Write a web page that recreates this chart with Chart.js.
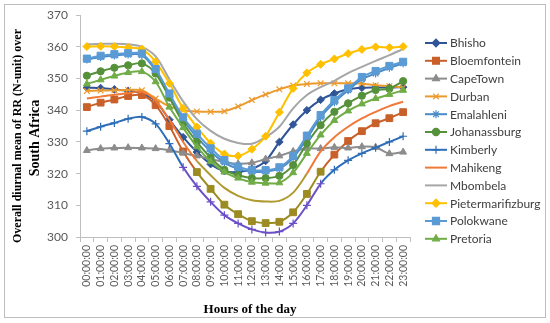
<!DOCTYPE html>
<html><head><meta charset="utf-8">
<script src="https://cdn.jsdelivr.net/npm/chart.js@4.4.0/dist/chart.umd.min.js"></script>
<style>html,body{margin:0;padding:0;background:#fff;}</style>
</head><body>
<canvas id="c" width="550" height="323"></canvas>
<script>
const hours = ["00:00:00","01:00:00","02:00:00","03:00:00","04:00:00","05:00:00","06:00:00","07:00:00","08:00:00","09:00:00","10:00:00","11:00:00","12:00:00","13:00:00","14:00:00","15:00:00","16:00:00","17:00:00","18:00:00","19:00:00","20:00:00","21:00:00","22:00:00","23:00:00"];
const yTicks = [300,310,320,330,340,350,360,370];

const bhisho       = [347.1,347.0,346.6,346.1,345.3,342.8,337.0,331.5,326.8,323.0,320.8,320.5,321.5,324.0,330.0,335.5,340.0,343.3,345.3,346.6,347.1,347.2,347.2,347.3];
const bloemfontein = [341.0,342.4,343.4,344.5,344.8,341.6,335.0,327.0,320.5,315.2,310.2,307.2,305.0,304.4,304.8,307.8,313.6,320.6,326.0,330.3,333.4,335.9,337.5,339.4];
const capeTown     = [327.3,327.9,328.1,328.2,328.1,327.9,327.4,326.5,325.6,324.6,323.7,323.1,323.4,324.6,325.6,327.0,328.0,327.9,328.3,328.1,328.5,328.3,326.3,326.8];
const durban       = [346.1,346.2,346.3,346.4,346.3,343.7,341.2,340.0,339.6,339.5,339.7,341.2,343.2,345.0,346.6,347.8,348.3,348.5,348.5,348.5,348.4,347.9,347.6,347.2];
const emalahleni   = [356.0,356.8,357.3,357.6,357.4,352.5,344.5,337.0,331.5,327.0,323.5,321.5,320.6,320.7,321.6,325.0,331.0,337.8,342.5,346.3,349.8,351.6,353.4,354.8];
const johanassburg = [350.9,352.3,353.4,354.2,354.8,351.6,344.0,336.0,330.0,325.0,321.2,319.5,318.6,318.6,319.3,322.7,329.5,335.3,339.5,342.2,344.6,346.4,346.8,349.2];
const kimberly     = [333.4,334.8,336.0,337.3,337.9,335.7,329.5,322.0,316.0,311.1,306.9,304.3,302.4,301.4,301.7,304.3,310.0,316.8,321.2,324.2,326.4,328.2,330.0,331.8];
const mahikeng     = [343.7,344.3,344.9,345.4,345.8,343.0,337.0,330.0,324.0,319.5,315.5,313.0,311.6,311.2,311.4,314.0,320.0,327.0,331.5,334.8,337.4,339.5,341.3,342.7];
const mbombela     = [360.8,361.0,361.0,360.8,360.0,357.0,349.8,342.8,337.2,333.5,331.0,329.7,329.4,331.5,334.8,340.6,344.8,347.3,349.3,351.7,353.7,355.6,357.4,359.3];
const pietermarifizburg = [360.1,360.2,360.1,359.8,359.3,355.3,348.5,340.6,334.7,329.6,326.2,325.6,327.7,331.8,339.4,346.9,351.8,354.5,356.2,357.9,359.2,360.0,359.8,360.1];
const polokwane    = [356.3,357.2,357.7,358.0,357.9,353.0,345.3,337.8,332.6,328.0,324.3,322.2,321.1,321.1,322.0,325.6,332.0,338.5,343.2,346.9,350.5,352.4,354.0,355.3];
const pretoria     = [348.3,349.6,350.8,351.9,352.2,349.0,341.0,334.5,328.5,323.8,320.5,318.6,317.3,317.0,317.1,320.3,326.4,332.2,336.8,339.8,342.0,343.7,345.0,346.3];

const series = [
  {label:"Bhisho", data:bhisho, color:"#2F5597", style:"rectRot", r:3.8},
  {label:"Bloemfontein", data:bloemfontein, color:"#C9602A", style:"rect", r:4.8, alt:{from:8,to:17,color:"#9C8B22"}},
  {label:"CapeTown", data:capeTown, color:"#8C8C8C", style:"triangle", r:4},
  {label:"Durban", data:durban, color:"#EC9A2E", style:"crossRot", r:4},
  {label:"Emalahleni", data:emalahleni, color:"#4A8CC8", style:"star", r:4},
  {label:"Johanassburg", data:johanassburg, color:"#55913A", style:"circle", r:3.6},
  {label:"Kimberly", data:kimberly, color:"#2E6DB8", style:"cross", r:4, alt:{from:7,to:17,color:"#6A4FC6"}},
  {label:"Mahikeng", data:mahikeng, color:"#F07838", style:false, r:0, alt:{from:8,to:16,color:"#B09A30"}},
  {label:"Mbombela", data:mbombela, color:"#A6A6A6", style:false, r:0},
  {label:"Pietermarifizburg", data:pietermarifizburg, color:"#FFC000", style:"rectRot", r:4},
  {label:"Polokwane", data:polokwane, color:"#5B9BD5", style:"rect", r:5},
  {label:"Pretoria", data:pretoria, color:"#70AD47", style:"triangle", r:4}
];

const datasets = series.map((s, i) => {
  const alt = s.alt;
  const ptColor = s.data.map((v, k) => (alt && k >= alt.from && k <= alt.to) ? alt.color : s.color);
  return {
    label: s.label,
    data: s.data,
    borderColor: s.color,
    backgroundColor: s.color,
    pointBackgroundColor: ptColor,
    pointBorderColor: ptColor,
    pointStyle: s.style || 'circle',
    pointRadius: s.r,
    pointBorderWidth: (s.style === 'cross' || s.style === 'crossRot' || s.style === 'star') ? 1.2 : 1,
    borderWidth: 2,
    tension: 0.3,
    fill: false,
    order: series.length - i,
    segment: alt ? {
      borderColor: ctx => (ctx.p0DataIndex >= alt.from && ctx.p1DataIndex <= alt.to) ? alt.color : undefined
    } : undefined
  };
});

const decor = {
  id: 'decor',
  beforeDraw(chart) {
    const ctx = chart.ctx;
    ctx.save();
    ctx.fillStyle = '#fff';
    ctx.fillRect(0, 0, chart.width, chart.height);
    ctx.strokeStyle = '#bdbdbd';
    ctx.lineWidth = 1;
    ctx.strokeRect(4.5, 4.5, 541, 313);
    ctx.restore();
  },
  afterDraw(chart) {
    const ctx = chart.ctx;
    const ca = chart.chartArea;
    ctx.save();
    ctx.fillStyle = '#000';
    ctx.textAlign = 'center';
    ctx.textBaseline = 'middle';
    // y title
    ctx.save();
    ctx.translate(18, 136);
    ctx.rotate(-Math.PI / 2);
    ctx.font = 'bold 12px "Liberation Serif"';
    ctx.fillText('Overall diurnal mean of RR (N-unit) over', 0, 0);
    ctx.restore();
    ctx.save();
    ctx.translate(35, 138);
    ctx.rotate(-Math.PI / 2);
    ctx.font = 'bold 14px "Liberation Serif"';
    ctx.fillText('South Africa', 0, 0);
    ctx.restore();
    // x title
    ctx.font = 'bold 13px "Liberation Serif"';
    ctx.fillText('Hours of the day', (ca.left + ca.right) / 2 + 5, 310);
    // legend
    const lx = ca.right + 15;
    series.forEach((s, i) => {
      const y = 43 + i * 17.8;
      ctx.strokeStyle = s.color;
      ctx.fillStyle = s.color;
      ctx.lineWidth = 2;
      ctx.beginPath();
      ctx.moveTo(lx, y);
      ctx.lineTo(lx + 22, y);
      ctx.stroke();
      if (s.style) {
        ctx.lineWidth = 1.2;
        Chart.helpers.drawPoint(ctx, {pointStyle: s.style, radius: s.r, rotation: 0, borderWidth: 1}, lx + 11, y);
      }
      ctx.fillStyle = '#404040';
      ctx.textAlign = 'left';
      ctx.font = '12px Lato';
      ctx.fillText(s.label, lx + 25, y + 0.5);
    });
    ctx.restore();
  }
};

new Chart(document.getElementById('c'), {
  type: 'line',
  data: {labels: hours, datasets},
  options: {
    responsive: false,
    animation: false,
    devicePixelRatio: 1,
    layout: {padding: {left: 0, right: 140, top: 15, bottom: 0}},
    plugins: {legend: {display: false}, tooltip: {enabled: false}},
    scales: {
      x: {
        type: 'category',
        offset: true,
        grid: {display: true, drawOnChartArea: false, drawTicks: true, tickLength: 5, offset: true, color: '#bfbfbf'},
        border: {display: true, color: '#bfbfbf'},
        ticks: {autoSkip: false, minRotation: 90, maxRotation: 90, padding: 3, color: '#595959', font: {family: 'Lato', size: 10.5}},
        afterFit: s => { s.height = 86; }
      },
      y: {
        min: 300, max: 370,
        afterBuildTicks: s => { s.ticks = yTicks.map(v => ({value: v})); },
        grid: {display: true, drawOnChartArea: false, drawTicks: true, tickLength: 4, color: '#bfbfbf'},
        border: {display: true, color: '#bfbfbf'},
        ticks: {padding: 8, color: '#595959', font: {family: 'Lato', size: 12}},
        afterFit: s => { s.width = 80; }
      }
    }
  },
  plugins: [decor]
});
</script>
</body></html>
